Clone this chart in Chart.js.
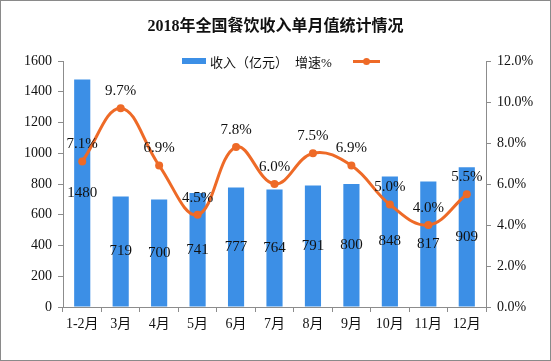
<!DOCTYPE html>
<html><head><meta charset="utf-8">
<script src="https://cdn.jsdelivr.net/npm/chart.js@4/dist/chart.umd.min.js"></script>
<style>
html,body{margin:0;padding:0;background:#fff;}
#wrap{position:relative;width:551px;height:361px;overflow:hidden;}
#frame{position:absolute;left:0;top:0;width:551px;height:361px;box-sizing:border-box;border:1px solid #8a8a8a;pointer-events:none;}
#title{position:absolute;left:0;top:12px;width:551px;text-align:center;font:bold 16px 'Liberation Serif','Noto Sans CJK SC',serif;color:#111;}
#legend{position:absolute;top:53px;left:182px;font:13px 'Liberation Serif','Noto Sans CJK SC',serif;color:#111;white-space:nowrap;}
#legend span{position:absolute;top:0;}
canvas{position:absolute;left:0;top:0;}
</style></head>
<body>
<div id="wrap">
<canvas id="c" width="551" height="361"></canvas>
<div id="title">2018年全国餐饮收入单月值统计情况</div>
<div id="legend">
 <span style="left:0;top:5px;width:24px;height:6px;background:#3C8FE6;"></span>
 <span style="left:28px;top:-1px;">收入（亿元）</span>
 <span style="left:113px;top:-1px;">增速%</span>
 <span style="left:171px;top:7px;width:27px;height:3px;background:#EE6A27;"></span>
 <span style="left:181px;top:5px;width:7px;height:7px;border-radius:50%;background:#EE6A27;"></span>
</div>
<div id="frame"></div>
</div>
<script>
const categories = ['1-2月','3月','4月','5月','6月','7月','8月','9月','10月','11月','12月'];
const revenue = [1480, 719, 700, 741, 777, 764, 791, 800, 848, 817, 909];
const growth = [7.1, 9.7, 6.9, 4.5, 7.8, 6.0, 7.5, 6.9, 5.0, 4.0, 5.5];
const leftTicks = [0,200,400,600,800,1000,1200,1400,1600];
const rightTicks = [0,2,4,6,8,10,12];

const BLUE = '#3C8FE6', ORANGE = '#EE6A27', AXIS = '#8c8c8c';
const FONT = "'Liberation Serif','Noto Sans CJK SC',serif";

const labelPlugin = {
  id: 'valueLabels',
  afterDatasetsDraw(chart) {
    const ctx = chart.ctx;
    ctx.save();
    ctx.fillStyle = '#111';
    ctx.font = '15px ' + FONT;
    ctx.textAlign = 'center';
    ctx.textBaseline = 'middle';
    const mBar = chart.getDatasetMeta(1);
    mBar.data.forEach((el, i) => {
      const mid = (el.y + el.base) / 2;
      ctx.fillText(String(revenue[i]), el.x, mid);
    });
    const mLine = chart.getDatasetMeta(0);
    mLine.data.forEach((el, i) => {
      ctx.fillText(growth[i].toFixed(1) + '%', el.x, el.y - 17);
    });
    ctx.restore();
  }
};

new Chart(document.getElementById('c'), {
  data: {
    labels: categories,
    datasets: [
      { type: 'line', label: '增速%', data: growth, yAxisID: 'y1', order: 0,
        borderColor: ORANGE, backgroundColor: ORANGE, borderWidth: 3,
        pointRadius: 4, pointBackgroundColor: ORANGE, pointBorderWidth: 0,
        tension: 0.4 },
      { type: 'bar', label: '收入（亿元）', data: revenue, yAxisID: 'y', order: 1,
        backgroundColor: BLUE, barPercentage: 0.42, categoryPercentage: 1.0 }
    ]
  },
  options: {
    responsive: false,
    animation: false,
    layout: { padding: { top: 61, left: 0, right: 0, bottom: 0 } },
    plugins: { legend: { display: false }, title: { display: false }, tooltip: { enabled: false } },
    scales: {
      x: {
        offset: true,
        grid: { display: true, drawOnChartArea: false, offset: true, tickLength: 5, color: AXIS },
        border: { color: AXIS, width: 1 },
        ticks: { color: '#111', font: { family: FONT, size: 14 }, maxRotation: 0, autoSkip: false, padding: 4 },
        afterFit(s) { s.height = 54; }
      },
      y: {
        position: 'left', min: 0, max: 1600,
        afterBuildTicks(s) { s.ticks = leftTicks.map(v => ({ value: v })); },
        grid: { drawOnChartArea: false, tickLength: 5, color: AXIS },
        border: { color: AXIS, width: 1 },
        ticks: { color: '#111', font: { family: FONT, size: 14 }, padding: 6,
          callback: v => String(v) },
        afterFit(s) { s.width = 63; }
      },
      y1: {
        position: 'right', min: 0, max: 12,
        afterBuildTicks(s) { s.ticks = rightTicks.map(v => ({ value: v })); },
        grid: { drawOnChartArea: false, tickLength: 5, color: AXIS },
        border: { color: AXIS, width: 1 },
        ticks: { color: '#111', font: { family: FONT, size: 14 }, padding: 6,
          callback: v => Number(v).toFixed(1) + '%' },
        afterFit(s) { s.width = 65; }
      }
    }
  },
  plugins: [labelPlugin]
});
</script>
</body></html>
